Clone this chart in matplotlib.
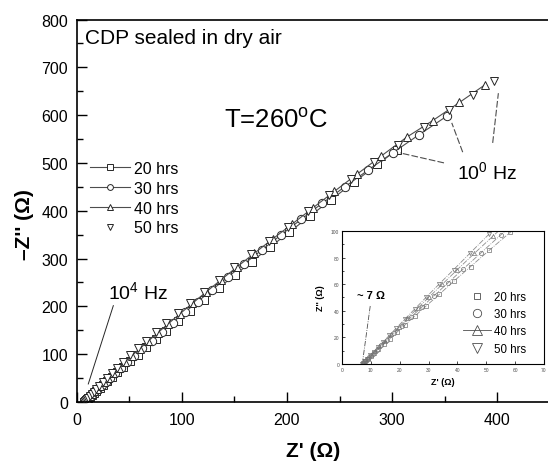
"""
    Nyquist plot: CDP sealed in dry air at 260 C, with low-Z inset
"""
import matplotlib
matplotlib.use('Agg')
import matplotlib.pyplot as plt
from matplotlib.lines import Line2D

plt.rcParams['font.family'] = ['Liberation Sans', 'DejaVu Sans']
plt.rcParams['mathtext.fontset'] = 'custom'
plt.rcParams['mathtext.rm'] = 'Liberation Sans'

labels = ['20 hrs', '30 hrs', '40 hrs', '50 hrs']

# Z' and -Z'' (ohm)
z_re_20 = [7.5, 8.1, 8.9, 9.9, 11.1, 12.6, 14.4, 16.5, 19.0, 21.9, 25.3, 29.2, 33.7,
           38.8, 44.6, 51.1, 58.4, 66.5, 75.5, 85.4, 96.3, 108.2, 121.1, 135.1, 150.2,
           166.4, 183.7, 202.1, 221.6, 242.2, 263.9, 286.1, 305.0]
z_im_20 = [1.0, 2.2, 3.8, 5.8, 8.2, 11.2, 14.7, 18.9, 23.8, 29.5, 36.1, 43.7, 52.3,
           62.3, 73.3, 85.6, 99.2, 114.2, 130.8, 149.0, 168.8, 190.3, 213.4, 238.3, 264.9,
           293.3, 323.4, 355.1, 388.4, 423.4, 459.9, 496.8, 528.1]

z_re_30 = [7.3, 7.9, 8.6, 9.5, 10.6, 12.0, 13.7, 15.7, 18.0, 20.7, 23.9, 27.6, 31.8,
           36.6, 42.0, 48.1, 55.0, 62.7, 71.3, 80.8, 91.3, 102.8, 115.3, 128.9, 143.6,
           159.4, 176.3, 194.3, 213.4, 233.6, 254.9, 277.3, 300.8, 325.3, 352.0]
z_im_30 = [0.6, 1.9, 3.4, 5.3, 7.6, 10.6, 14.1, 18.3, 23.1, 28.6, 35.2, 42.6, 51.1,
           60.7, 71.4, 83.4, 97.0, 112.0, 128.6, 146.5, 166.1, 187.3, 210.1, 234.7, 260.9,
           288.8, 318.3, 349.3, 381.8, 415.8, 449.9, 485.2, 521.5, 558.6, 597.9]

z_re_40 = [7.1, 7.6, 8.2, 9.0, 10.1, 11.4, 13.0, 14.9, 17.1, 19.7, 22.7, 26.2, 30.2,
           34.8, 40.0, 45.9, 52.5, 59.9, 68.1, 77.2, 87.2, 98.2, 110.2, 123.3, 137.5,
           152.7, 169.0, 186.4, 204.9, 224.5, 245.2, 267.0, 289.9, 313.8, 338.6, 364.0, 388.0]
z_im_40 = [0.2, 1.3, 2.7, 4.4, 6.9, 9.7, 13.3, 17.5, 22.2, 27.9, 34.4, 41.9, 50.3,
           60.0, 71.0, 83.2, 96.5, 111.1, 127.1, 144.6, 163.6, 184.2, 206.4, 230.3, 255.8,
           282.7, 311.0, 340.9, 372.1, 405.6, 440.7, 477.1, 514.9, 553.8, 588.6, 626.5, 663.0]

z_re_50 = [7.0, 7.4, 8.0, 8.8, 9.8, 11.0, 12.5, 14.3, 16.4, 18.9, 21.8, 25.2, 29.1,
           33.6, 38.7, 44.5, 51.0, 58.3, 66.4, 75.4, 85.3, 96.2, 108.1, 121.0, 135.0,
           150.0, 166.0, 183.0, 201.0, 220.0, 240.0, 261.0, 283.0, 306.0, 330.0, 354.0,
           377.0, 397.0]
z_im_50 = [0.0, 0.9, 2.3, 4.1, 6.4, 9.2, 12.6, 16.7, 21.5, 27.2, 33.7, 41.3, 50.0,
           59.9, 70.9, 83.6, 97.7, 112.9, 128.1, 145.7, 164.8, 185.4, 207.2, 230.1, 255.5,
           282.0, 309.4, 337.6, 366.7, 398.9, 432.4, 467.1, 502.3, 538.2, 574.9, 610.0,
           643.1, 670.8]

series = [(z_re_20, z_im_20), (z_re_30, z_im_30), (z_re_40, z_im_40), (z_re_50, z_im_50)]
markers = ['s', 'o', '^', 'v']
main_ls = ['-', '-', '-', 'none']

fig = plt.figure(figsize=(5.48, 4.64), dpi=100)
ax = fig.add_axes([0.1396, 0.1315, 0.8639, 0.8243])

for (x, y), m, ls, lab in zip(series, markers, main_ls, labels):
    ax.plot(x, y, marker=m, linestyle=ls, color='0.3', lw=0.8, ms=6,
            mfc='white', mec='0.15', mew=0.7, label=lab)

ax.set_xlim(0, 450)
ax.set_ylim(0, 800)
ax.set_xticks([0, 100, 200, 300, 400])
ax.set_xticks([50, 150, 250, 350], minor=True)
ax.set_yticks(range(0, 801, 100))
ax.set_yticks(range(50, 800, 100), minor=True)
ax.tick_params(which='both', direction='in', labelsize=11.5, width=1.0)
ax.tick_params(which='major', length=7)
ax.tick_params(which='minor', length=4)
ax.tick_params(axis='x', pad=7)
ax.tick_params(axis='y', pad=6)
for sp in ax.spines.values():
    sp.set_linewidth(1.2)

fig.text(24 / 548, 1 - 225 / 464, "\u2013Z'' (\u03a9)", rotation=90, ha='center', va='center',
         fontsize=15, fontweight='bold')
fig.text(313 / 548, 1 - 452 / 464, "Z' (\u03a9)", ha='center', va='center',
         fontsize=15, fontweight='bold')

ax.text(8.1, 761.6, 'CDP sealed in dry air', fontsize=15, va='center', ha='left')
ax.text(140.2, 592, r'T=260$^\mathrm{o}$C', fontsize=18.5, va='center', ha='left')
ax.text(29.9, 230.8, r'10$^\mathrm{4}$ Hz', fontsize=14, va='center', ha='left')
ax.text(361.7, 481.3, r'10$^\mathrm{0}$ Hz', fontsize=14, va='center', ha='left')

ax.plot([35.0, 11.2], [201.5, 37.7], color='0.15', lw=0.7)
ax.plot([349.3, 307.5], [500.1, 521.0], color='0.3', lw=0.8, ls=(0, (6, 2)))
ax.plot([367.1, 356.7], [522.5, 583.8], color='0.3', lw=0.8, ls=(0, (6, 2)))
ax.plot([395.6, 401.0], [541.9, 645.9], color='0.3', lw=0.8, ls=(0, (6, 2)))

leg = ax.legend(loc='upper left', bbox_to_anchor=(90 / 548, 1 - 162 / 464),
                bbox_transform=fig.transFigure, frameon=False, fontsize=11.5,
                handlelength=2.5, handletextpad=0.25, labelspacing=0.3,
                borderpad=0, borderaxespad=0, markerscale=0.7)

# inset
ins = fig.add_axes([0.624, 0.2134, 0.3686, 0.2866])
for (x, y), m in zip(series, markers):
    ins.plot(x, y, marker=m, linestyle='-.', color='0.55', lw=0.6, ms=3,
             mfc='none', mec='0.45', mew=0.5)
ins.set_xlim(0, 70)
ins.set_ylim(0, 100)
ins.set_xticks(range(0, 71, 10))
ins.set_yticks(range(0, 101, 20))
ins.set_yticks(range(10, 100, 20), minor=True)
ins.tick_params(which='both', direction='in', labelsize=3.5, labelcolor='0.3', width=0.5)
ins.tick_params(which='major', length=2.5, pad=2)
ins.tick_params(which='minor', length=1.5)
for sp in ins.spines.values():
    sp.set_linewidth(0.8)
ins.set_xlabel("Z' (\u03a9)", fontsize=6.5, fontweight='bold', labelpad=4)
ins.set_ylabel("Z'' (\u03a9)", fontsize=6.5, fontweight='bold', labelpad=4)

ins.text(5.2, 51.9, '~ 7 \u03a9', fontsize=8, fontweight='bold', va='center', ha='left')
ins.plot([9.8, 7.2], [43.6, 2.5], color='0.3', lw=0.6, ls='-.')

ins_handles = [
    Line2D([], [], marker='s', ls='none', color='0.3', mfc='none', ms=5, mew=0.6),
    Line2D([], [], marker='o', ls='none', color='0.3', mfc='none', ms=6, mew=0.6),
    Line2D([], [], marker='^', ls='-', color='0.3', mfc='none', ms=7, mew=0.6, lw=0.6),
    Line2D([], [], marker='v', ls='none', color='0.3', mfc='none', ms=7, mew=0.6),
]
ins.legend(ins_handles, labels, loc='upper left', bbox_to_anchor=(463 / 548, 1 - 292 / 464),
           bbox_transform=fig.transFigure, frameon=False, fontsize=8.3,
           handlelength=2.4, handletextpad=0.3, labelspacing=0.45,
           borderpad=0, borderaxespad=0)

fig.savefig('out.png', dpi=100)
